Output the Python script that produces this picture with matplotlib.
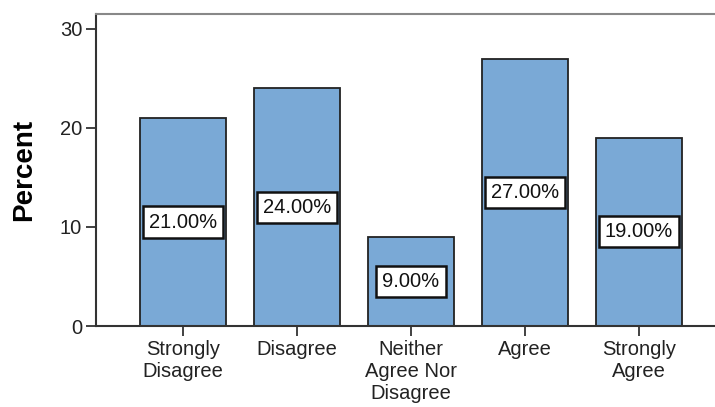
import matplotlib
matplotlib.use("Agg")
import matplotlib.pyplot as plt

categories = ["Strongly\nDisagree", "Disagree", "Neither\nAgree Nor\nDisagree", "Agree", "Strongly\nAgree"]
percent = [21.0, 24.0, 9.0, 27.0, 19.0]
y_ticks = [0, 10, 20, 30]

plt.rcParams["font.family"] = ["Liberation Sans", "DejaVu Sans"]

fig = plt.figure(figsize=(7.15, 4.07), dpi=100)
ax = fig.add_axes([96 / 715, 1 - 326 / 407, 1 - 96 / 715, (326 - 14) / 407])

x = list(range(len(categories)))
ax.bar(x, percent, width=0.76, color="#7AA9D6", edgecolor="#222222", linewidth=1.3, zorder=2)

for xi, v in zip(x, percent):
    ax.text(xi, v / 2, f"{v:.2f}%", ha="center", va="center", fontsize=14.5, color="#111111",
            bbox=dict(boxstyle="square,pad=0.3", facecolor="white", edgecolor="#111111", linewidth=1.8),
            zorder=3)

ax.set_xlim(-0.763, 4.667)
ax.set_ylim(0, 31.5)
ax.set_xticks(x)
ax.set_xticklabels(categories, fontsize=14.5, color="#222222", linespacing=1.2)
ax.set_yticks(y_ticks)
ax.set_yticklabels([str(t) for t in y_ticks], fontsize=14.5, color="#222222")
ax.tick_params(axis="both", length=7, width=1.3, color="#333333", direction="out", pad=3)
ax.set_ylabel("Percent", fontsize=20, fontweight="bold")
ax.yaxis.set_label_coords(-0.095, 0.5)

ax.spines["right"].set_visible(False)
ax.spines["left"].set_color("#333333")
ax.spines["left"].set_linewidth(1.5)
ax.spines["bottom"].set_color("#333333")
ax.spines["bottom"].set_linewidth(1.5)
ax.spines["top"].set_color("#888888")
ax.spines["top"].set_linewidth(1.5)

fig.savefig("out.png", dpi=100)
